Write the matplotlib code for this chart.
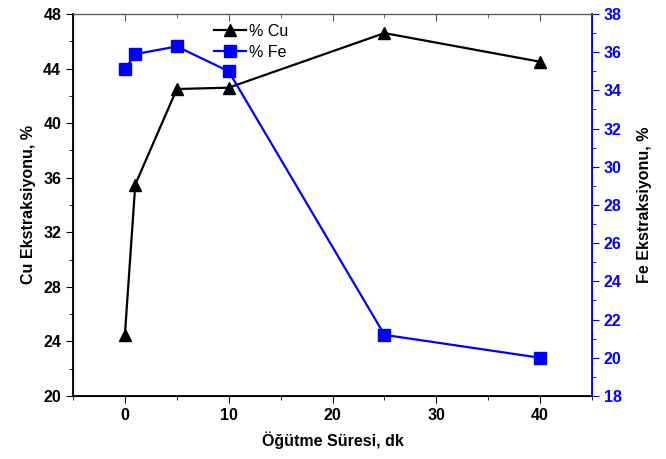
import matplotlib
matplotlib.use("Agg")
import matplotlib.pyplot as plt
from matplotlib.ticker import MultipleLocator

plt.rcParams['font.family'] = ['Liberation Sans', 'DejaVu Sans']

time_min = [0, 1, 5, 10, 25, 40]
cu_extraction = [24.5, 35.5, 42.5, 42.6, 46.6, 44.5]
fe_extraction = [35.1, 35.9, 36.3, 35.0, 21.2, 20.0]

blue = '#0000ff'
fig = plt.figure(figsize=(6.66, 4.59), dpi=100)
ax = fig.add_axes([0.1096, 0.1373, 0.7794, 0.8322])
ax2 = ax.twinx()

l1, = ax.plot(time_min, cu_extraction, '-^', color='black', lw=1.6, ms=9, label='% Cu')
l2, = ax2.plot(time_min, fe_extraction, '-s', color=blue, lw=1.6, ms=8, label='% Fe')

ax.set_xlim(-5, 45)
ax.set_ylim(20, 48)
ax2.set_ylim(18, 38)
ax.xaxis.set_major_locator(MultipleLocator(10))
ax.xaxis.set_minor_locator(MultipleLocator(5))
ax.yaxis.set_major_locator(MultipleLocator(4))
ax.yaxis.set_minor_locator(MultipleLocator(2))
ax2.yaxis.set_major_locator(MultipleLocator(2))
ax2.yaxis.set_minor_locator(MultipleLocator(1))

ax.tick_params(axis='x', which='both', direction='out')
ax.tick_params(axis='x', which='major', length=5, labelsize=11.5)
ax.tick_params(axis='x', which='minor', length=3)
ax.tick_params(axis='y', which='major', direction='out', length=5, labelsize=11.5)
ax.tick_params(axis='y', which='minor', direction='out', length=3)
ax2.tick_params(axis='y', which='major', direction='out', length=5, labelsize=11.5, colors=blue)
ax2.tick_params(axis='y', which='minor', direction='out', length=3, colors=blue)

top = ax.secondary_xaxis('top')
top.xaxis.set_major_locator(MultipleLocator(10))
top.xaxis.set_minor_locator(MultipleLocator(5))
top.tick_params(axis='x', which='major', direction='in', length=5, labeltop=False, color='#555555')
top.tick_params(axis='x', which='minor', direction='in', length=3, color='#555555')
top.spines['top'].set_color('#555555')

for lab in ax.get_xticklabels() + ax.get_yticklabels() + ax2.get_yticklabels():
    lab.set_fontweight('bold')

ax2.spines['right'].set_color(blue)
ax2.spines['right'].set_linewidth(1.3)
for s in ['left', 'bottom']:
    ax.spines[s].set_linewidth(1.3)
ax.spines['top'].set_color('#555555')
ax2.spines['top'].set_color('#555555')

ax.set_xlabel('Öğütme Süresi, dk', fontsize=11.5, fontweight='bold', labelpad=6)
ax.set_ylabel('Cu Ekstraksiyonu, %', fontsize=11.5, fontweight='bold', labelpad=5)
ax2.set_ylabel('Fe Ekstraksiyonu, %', fontsize=11.5, fontweight='bold', labelpad=11)

fig.legend(handles=[l1, l2], loc='upper left', bbox_to_anchor=(0.30, 0.98),
           frameon=False, fontsize=11.5, handlelength=2.0, handletextpad=0.15,
           labelspacing=0.4)

fig.savefig('out.png', dpi=100)
